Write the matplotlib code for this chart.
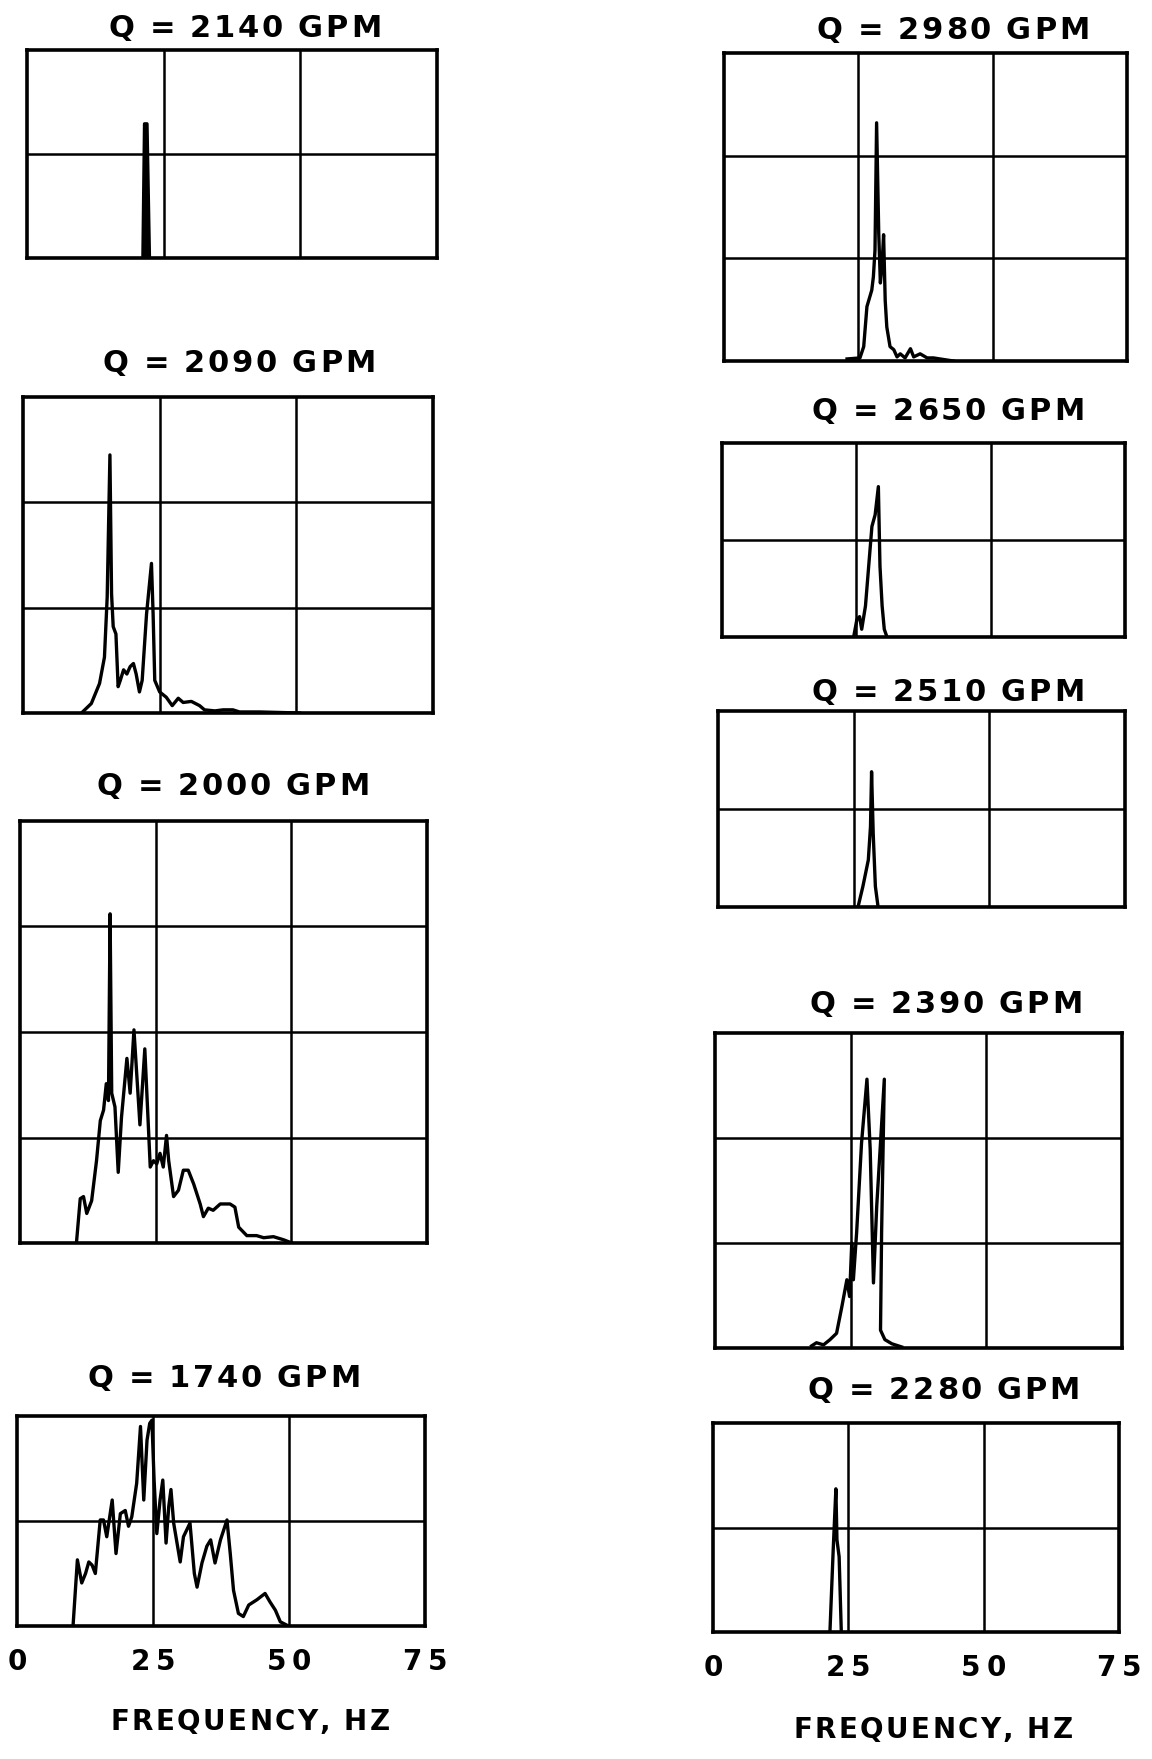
import matplotlib.pyplot as plt

W, H = 1152, 1759

# frequency (Hz) / amplitude (grid divisions)
f_2140 = [21.2, 21.5, 21.95, 22.4]
a_2140 = [0, 1.29, 1.29, 0]

f_2090 = [10.7, 12.5, 14.0, 14.9, 15.4, 15.9, 16.2, 16.5, 17.0, 17.4, 17.8, 18.4,
          19.0, 19.6, 20.2, 20.7, 21.3, 21.8, 22.6, 23.5, 23.8, 24.1, 25.0, 26.2,
          27.3, 28.4, 29.3, 30.8, 32.3, 33.2, 35.1, 36.6, 38.4, 39.6, 43.3, 50.6]
a_2090 = [0, 0.09, 0.28, 0.53, 1.10, 2.45, 1.13, 0.82, 0.75, 0.25, 0.31, 0.41,
          0.37, 0.44, 0.47, 0.37, 0.20, 0.31, 0.94, 1.42, 0.94, 0.31, 0.20, 0.15,
          0.07, 0.14, 0.10, 0.11, 0.07, 0.03, 0.02, 0.03, 0.03, 0.01, 0.01, 0]

f_2000 = [10.4, 11.1, 11.7, 12.3, 13.2, 14.1, 14.8, 15.4, 15.9, 16.3, 16.6, 16.9,
          17.5, 18.1, 18.7, 19.7, 20.3, 21.0, 21.5, 22.1, 23.0, 24.0, 24.6, 25.2,
          25.8, 26.4, 27.0, 27.4, 28.3, 29.2, 30.1, 31.0, 32.0, 33.2, 33.8, 34.7,
          35.6, 36.9, 38.7, 39.6, 40.3, 41.8, 43.6, 44.9, 46.7, 48.6, 50.1]
a_2000 = [0, 0.42, 0.44, 0.28, 0.40, 0.78, 1.16, 1.26, 1.51, 1.35, 3.12, 1.42,
          1.29, 0.67, 1.19, 1.75, 1.42, 2.02, 1.61, 1.12, 1.84, 0.72, 0.78, 0.75,
          0.85, 0.72, 1.02, 0.78, 0.44, 0.50, 0.69, 0.69, 0.56, 0.37, 0.25, 0.33,
          0.31, 0.37, 0.37, 0.34, 0.15, 0.07, 0.07, 0.05, 0.06, 0.03, 0]

f_1740 = [10.3, 11.1, 11.9, 12.6, 13.2, 13.8, 14.4, 15.3, 15.9, 16.5, 17.5, 18.2,
          19.0, 19.9, 20.5, 21.1, 22.0, 22.7, 23.3, 23.9, 24.4, 24.8, 25.2, 25.7,
          26.3, 26.8, 27.4, 27.9, 28.3, 28.8, 30.0, 30.6, 31.8, 32.6, 33.1, 34.0,
          34.9, 35.6, 36.4, 37.4, 38.6, 39.2, 39.8, 40.7, 41.6, 42.6, 44.1, 45.6,
          46.5, 47.5, 48.4, 49.9]
a_1740 = [0, 0.63, 0.41, 0.50, 0.61, 0.58, 0.50, 1.01, 1.01, 0.85, 1.20, 0.69,
          1.07, 1.10, 0.95, 1.04, 1.36, 1.90, 1.20, 1.77, 1.93, 1.96, 1.39, 0.88,
          1.20, 1.39, 0.79, 1.14, 1.30, 0.98, 0.61, 0.85, 0.98, 0.50, 0.37, 0.60,
          0.76, 0.82, 0.60, 0.82, 1.01, 0.69, 0.34, 0.12, 0.09, 0.20, 0.25, 0.31,
          0.23, 0.15, 0.04, 0]

f_2980 = [22.9, 25.3, 26.0, 26.6, 27.5, 27.8, 28.1, 28.4, 28.8, 29.1, 29.4, 29.7,
          30.0, 30.3, 30.9, 31.6, 32.2, 32.8, 33.7, 34.7, 35.3, 36.5, 37.8, 39.0,
          40.2, 42.7]
a_2980 = [0.02, 0.03, 0.14, 0.53, 0.69, 0.82, 1.08, 2.32, 1.24, 0.76, 0.92, 1.23,
          0.59, 0.33, 0.14, 0.11, 0.04, 0.07, 0.03, 0.12, 0.04, 0.07, 0.03, 0.03,
          0.02, 0]

f_2650 = [24.5, 25.1, 25.6, 26.0, 26.7, 27.3, 27.9, 28.5, 29.1, 29.4, 29.8, 30.2, 30.7]
a_2650 = [0, 0.18, 0.21, 0.08, 0.32, 0.73, 1.14, 1.26, 1.55, 0.73, 0.32, 0.08, 0]

f_2510 = [25.8, 26.7, 27.7, 28.1, 28.3, 28.6, 29.0, 29.5]
a_2510 = [0, 0.21, 0.48, 0.82, 1.38, 0.75, 0.21, 0]

f_2390 = [17.8, 18.7, 20.0, 21.2, 22.4, 23.4, 24.3, 24.8, 25.2, 25.5, 26.1, 27.0,
          28.0, 28.6, 29.2, 29.8, 31.2, 30.7, 30.5, 31.3, 32.6, 34.4]
a_2390 = [0.02, 0.05, 0.03, 0.08, 0.14, 0.40, 0.65, 0.49, 1.00, 0.65, 1.10, 1.95,
          2.56, 1.89, 0.62, 1.35, 2.56, 1.10, 0.17, 0.08, 0.04, 0.01]

f_2280 = [21.6, 22.2, 22.7, 22.9, 23.3, 23.7]
a_2280 = [0, 0.78, 1.37, 0.88, 0.72, 0]

freq_ticks = [0, 25, 50, 75]
freq_labels = ['0', '25', '50', '75']

fig = plt.figure(figsize=(W / 100, H / 100), dpi=100)
fig.patch.set_facecolor('white')
renderer = fig.canvas.get_renderer()


def tracked(x, y, s, size, gap):
    # draw bold text centred on pixel (x, y) with extra letter spacing
    em = size * 100 / 72
    ws = []
    for ch in s:
        if ch == ' ':
            ws.append(0.3 * em)
        else:
            t = fig.text(0, 0, ch, fontsize=size, fontweight='bold')
            ws.append(t.get_window_extent(renderer).width)
            t.remove()
    total = sum(ws) + gap * (len(s) - 1)
    cx = x - total / 2
    base = y + 0.73 * em / 2
    for ch, w in zip(s, ws):
        if ch != ' ':
            fig.text((cx + w / 2) / W, 1 - base / H, ch, ha='center',
                     va='baseline', fontsize=size, fontweight='bold')
        cx += w + gap


def panel(box, nrows, f, a, title, title_xy, bottom=False, fill=False):
    x0, y0, x1, y1 = box
    ax = fig.add_axes([x0 / W, 1 - y1 / H, (x1 - x0) / W, (y1 - y0) / H])
    ax.set_xlim(0, 75)
    ax.set_ylim(0, nrows)
    for v in (25, 50):
        ax.axvline(v, color='k', lw=1.8)
    for r in range(1, nrows):
        ax.axhline(r, color='k', lw=1.8)
    ax.plot(f, a, color='k', lw=2.4, solid_joinstyle='round')
    if fill:
        ax.fill(f, a, color='k')
    for s in ax.spines.values():
        s.set_linewidth(2.6)
    ax.set_xticks([])
    ax.set_yticks([])
    tracked(title_xy[0], title_xy[1], title, 22, 2.8)
    if bottom:
        for t, lab in zip(freq_ticks, freq_labels):
            px, _ = ax.transData.transform((t, 0))
            tracked(px, y1 + 34, lab, 20, 6)
    return ax


# left column
panel((27, 50, 437, 258), 2, f_2140, a_2140, 'Q = 2140 GPM', (245, 26), fill=True)
panel((23, 397, 433, 713), 3, f_2090, a_2090, 'Q = 2090 GPM', (239, 361))
panel((20, 821, 427, 1243), 4, f_2000, a_2000, 'Q = 2000 GPM', (233, 784))
panel((17, 1416, 425, 1626), 2, f_1740, a_1740, 'Q = 1740 GPM', (224, 1376), bottom=True)

# right column
panel((724, 53, 1127, 361), 3, f_2980, a_2980, 'Q = 2980 GPM', (953, 28))
panel((722, 443, 1125, 637), 2, f_2650, a_2650, 'Q = 2650 GPM', (948, 409))
panel((718, 711, 1125, 907), 2, f_2510, a_2510, 'Q = 2510 GPM', (948, 690))
panel((715, 1033, 1122, 1348), 3, f_2390, a_2390, 'Q = 2390 GPM', (946, 1002))
panel((713, 1423, 1119, 1632), 2, f_2280, a_2280, 'Q = 2280 GPM', (944, 1388), bottom=True)

tracked(250, 1720, 'FREQUENCY, HZ', 20, 2.4)
tracked(933, 1728, 'FREQUENCY, HZ', 20, 2.4)

fig.savefig('out.png', dpi=100, facecolor='white')
